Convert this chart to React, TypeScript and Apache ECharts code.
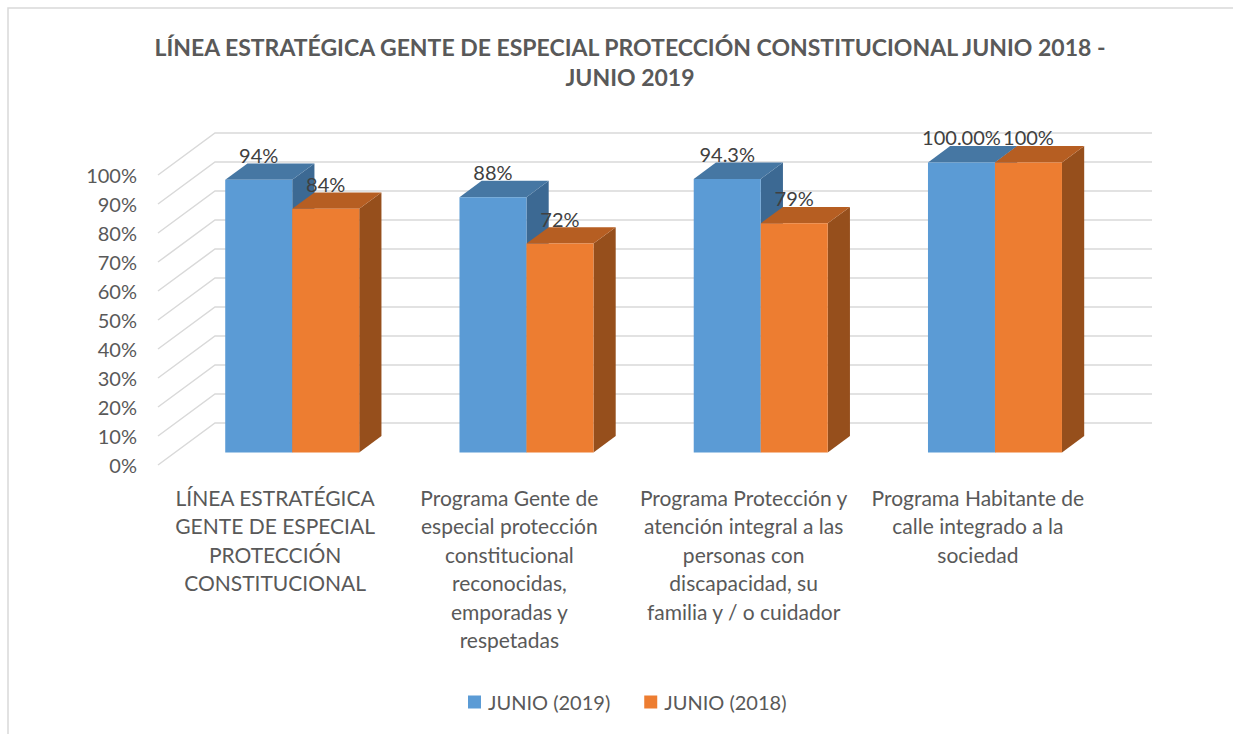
import React, { useEffect, useRef } from "react";
import * as echarts from "echarts";

// ---------- data ----------
const CATEGORY_LINES: string[][] = [
  ["LÍNEA ESTRATÉGICA", "GENTE DE ESPECIAL", "PROTECCIÓN", "CONSTITUCIONAL"],
  ["Programa Gente de", "especial protección", "constitucional", "reconocidas,", "emporadas y", "respetadas"],
  ["Programa Protección y", "atención integral a las", "personas con", "discapacidad, su", "familia y / o cuidador"],
  ["Programa Habitante de", "calle integrado a la", "sociedad"],
];
const CATEGORIES = CATEGORY_LINES.map((l) => l.join(" "));
const SERIES_NAMES = ["JUNIO (2019)", "JUNIO (2018)"];
const JUNIO_2019 = [0.94, 0.88, 0.943, 1.0];
const JUNIO_2018 = [0.84, 0.72, 0.79, 1.0];
const DECIMALS_2019 = [0, 0, 1, 2];
const DECIMALS_2018 = [0, 0, 0, 0];
const Y_TICKS = [0, 0.1, 0.2, 0.3, 0.4, 0.5, 0.6, 0.7, 0.8, 0.9, 1.0];
const TITLE_LINES = [
  "LÍNEA ESTRATÉGICA GENTE DE ESPECIAL PROTECCIÓN CONSTITUCIONAL JUNIO 2018 -",
  "JUNIO 2019",
];

// ---------- style ----------
const FONT = "Lato, 'Open Sans', sans-serif";
const TEXT_GRAY = "#595959";
const GRID_GRAY = "#D9D9D9";
const FACES = [
  { front: "#5B9BD5", top: "#4677A3", side: "#3C6993" },
  { front: "#ED7D31", top: "#B65E22", side: "#964F1C" },
];
const DEPTH_X = 57;
const DEPTH_Y = 42;
const BAR_FRONT = 0.3;
const BAR_BACK = 0.69;
const BAR_W = 0.286;

export default function App() {
  const ref = useRef<HTMLDivElement>(null);

  useEffect(() => {
    document.body.style.margin = "0";
    if (!ref.current) return;
    const chart = echarts.init(ref.current, undefined, { renderer: "svg" });

    const seriesValues = [JUNIO_2019, JUNIO_2018];
    const seriesDecimals = [DECIMALS_2019, DECIMALS_2018];

    const barSeries = seriesValues.map((vals, s) => ({
      type: "custom",
      name: SERIES_NAMES[s],
      itemStyle: { color: FACES[s].front },
      clip: false,
      z: 3,
      data: vals.map((v, i) => [i, v]),
      renderItem: (params: any, api: any) => {
        const i = api.value(0);
        const v = api.value(1);
        const topPt = api.coord([i, v]);
        const basePt = api.coord([i, 0]);
        const band = api.size([1, 0])[0];
        const w = band * BAR_W;
        const fx = BAR_FRONT * DEPTH_X;
        const fy = BAR_FRONT * DEPTH_Y;
        const x0 = topPt[0] - w + s * w + fx;
        const x1 = x0 + w;
        const yT = topPt[1] - fy;
        const yB = basePt[1] - fy;
        const bx = (BAR_BACK - BAR_FRONT) * DEPTH_X;
        const by = (BAR_BACK - BAR_FRONT) * DEPTH_Y;
        const dec = seriesDecimals[s][params.dataIndex];
        const label = (vals[params.dataIndex] * 100).toFixed(dec) + "%";
        return {
          type: "group",
          children: [
            {
              type: "polygon",
              shape: { points: [[x1, yT], [x1 + bx, yT - by], [x1 + bx, yB - by], [x1, yB]] },
              style: { fill: FACES[s].side },
            },
            {
              type: "polygon",
              shape: { points: [[x0, yT], [x0 + bx, yT - by], [x1 + bx, yT - by], [x1, yT]] },
              style: { fill: FACES[s].top },
            },
            {
              type: "rect",
              shape: { x: x0, y: yT, width: w, height: yB - yT },
              style: { fill: FACES[s].front },
            },
            {
              type: "text",
              style: {
                text: label,
                x: x0 + w / 2,
                y: yT - 25,
                align: "center",
                verticalAlign: "middle",
                fill: "#404040",
                fontSize: 20,
                fontFamily: FONT,
              },
            },
          ],
        };
      },
    }));

    const gridSeries = {
      type: "custom",
      name: "grid",
      silent: true,
      clip: false,
      z: 1,
      data: Y_TICKS.map((t) => [0, t]),
      renderItem: (params: any, api: any) => {
        const v = api.value(1);
        const p = api.coord([0, v]);
        const cs = params.coordSys;
        const xL = cs.x;
        const xR = cs.x + cs.width;
        const y = p[1];
        return {
          type: "polyline",
          shape: { points: [[xL, y], [xL + DEPTH_X, y - DEPTH_Y], [xR + DEPTH_X, y - DEPTH_Y]] },
          style: { stroke: GRID_GRAY, lineWidth: 1.5, fill: null },
        };
      },
    };

    const option: any = {
      animation: false,
      backgroundColor: "#FFFFFF",
      textStyle: { fontFamily: FONT },
      graphic: [
        {
          type: "rect",
          shape: { x: 8, y: 8, width: 1400, height: 900 },
          style: { fill: "none", stroke: GRID_GRAY, lineWidth: 1.5 },
          silent: true,
        },
        ...TITLE_LINES.map((t, k) => ({
          type: "text",
          x: 630,
          y: 47 + k * 30,
          style: {
            text: t,
            align: "center",
            verticalAlign: "middle",
            fill: TEXT_GRAY,
            fontSize: 23,
            fontWeight: "bold",
            fontFamily: FONT,
          },
        })),
      ],
      legend: {
        data: SERIES_NAMES,
        left: 468,
        top: 692,
        padding: 0,
        icon: "rect",
        itemWidth: 13,
        itemHeight: 13,
        itemGap: 34,
        textStyle: { fontSize: 20, color: TEXT_GRAY, fontFamily: FONT, padding: [0, 0, 0, 2] },
      },
      grid: { left: 158, right: 138, top: 175, bottom: 269, containLabel: false },
      xAxis: {
        type: "category",
        data: CATEGORIES,
        axisLine: { show: false },
        axisTick: { show: false },
        axisLabel: {
          interval: 0,
          margin: 18,
          color: TEXT_GRAY,
          fontSize: 21,
          lineHeight: 28.5,
          fontFamily: FONT,
          formatter: (_v: string, i: number) => CATEGORY_LINES[i].join("\n"),
        },
      },
      yAxis: {
        type: "value",
        min: 0,
        max: 1,
        interval: 0.1,
        axisLine: { show: false },
        axisTick: { show: false },
        splitLine: { show: false },
        axisLabel: {
          margin: 21,
          color: TEXT_GRAY,
          fontSize: 20,
          fontFamily: FONT,
          padding: [5, 0, 0, 0],
          formatter: (v: number) => Math.round(v * 100) + "%",
        },
      },
      series: [gridSeries, ...barSeries],
    };

    chart.setOption(option);
    return () => chart.dispose();
  }, []);

  return <div ref={ref} style={{ width: 1233, height: 734 }} />;
}
